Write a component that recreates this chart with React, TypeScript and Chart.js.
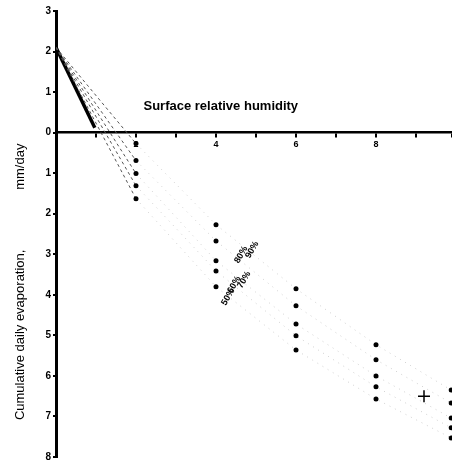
import React, { useEffect, useRef } from 'react';
import { Chart, registerables } from 'chart.js';
Chart.register(...registerables);

// ---- data ----
const startX = 0;
const startY = 2.1;
const columnX = [2, 4, 6, 8, 9.88];
const series1 = [-0.27, -2.27, -3.85, -5.23, -6.35];
const series2 = [-0.69, -2.67, -4.27, -5.6, -6.67];
const series3 = [-1.01, -3.16, -4.72, -6.0, -7.04];
const series4 = [-1.31, -3.41, -5.01, -6.27, -7.28];
const series5 = [-1.63, -3.8, -5.36, -6.57, -7.53];
const allSeries = [series1, series2, series3, series4, series5];
const seriesLabels = ['90%', '80%', '70%', '60%', '50%'];
const labelX = [4.9, 4.63, 4.7, 4.45, 4.3];
const labelY = [-2.89, -3.01, -3.63, -3.75, -4.05];
const solidX = [0, 0.97];
const solidY = [2.1, 0.12];
const crossX = [9.2];
const crossY = [-6.5];
const xLabelTicks = [2, 4, 6, 8];
const axisTitle = 'Surface relative humidity';
const yTitleMain = 'Cumulative daily evaporation,';
const yTitleUnit = 'mm/day';

// stretch the plot area to the canvas' right and bottom edges (like the scanned figure)
const areaPlugin = {
  id: 'area',
  afterLayout(chart: any) {
    const ca = chart.chartArea;
    const xs = chart.scales.x;
    const ys = chart.scales.y;
    ca.right = chart.width;
    ca.bottom = chart.height - 4;
    ca.width = ca.right - ca.left;
    ca.height = ca.bottom - ca.top;
    xs.right = ca.right;
    xs.width = xs.right - xs.left;
    ys.bottom = ca.bottom;
    ys.height = ys.bottom - ys.top;
    xs.configure();
    ys.configure();
  },
};

const textPlugin = {
  id: 'texts',
  afterDatasetsDraw(chart: any) {
    const { ctx, scales } = chart;
    const xs = scales.x;
    const ys = scales.y;
    ctx.save();
    ctx.fillStyle = '#000';
    // x-axis title
    ctx.font = 'bold 13px "Liberation Sans", Arial, sans-serif';
    ctx.textAlign = 'center';
    ctx.textBaseline = 'middle';
    ctx.fillText(axisTitle, xs.getPixelForValue(4.12), ys.getPixelForValue(0.64));
    // series labels (rotated)
    ctx.font = 'bold 9px "Liberation Sans", Arial, sans-serif';
    seriesLabels.forEach((t, i) => {
      ctx.save();
      ctx.translate(xs.getPixelForValue(labelX[i]), ys.getPixelForValue(labelY[i]));
      ctx.rotate(-Math.PI / 3);
      ctx.textAlign = 'center';
      ctx.textBaseline = 'middle';
      ctx.fillText(t, 0, 0);
      ctx.restore();
    });
    // y title
    ctx.font = '13px "Liberation Sans", Arial, sans-serif';
    ctx.save();
    ctx.translate(20, ys.getPixelForValue(-7.09));
    ctx.rotate(-Math.PI / 2);
    ctx.textAlign = 'left';
    ctx.textBaseline = 'middle';
    ctx.fillText(yTitleMain, 0, 0);
    ctx.restore();
    ctx.save();
    ctx.translate(20, ys.getPixelForValue(-1.41));
    ctx.rotate(-Math.PI / 2);
    ctx.textAlign = 'left';
    ctx.textBaseline = 'middle';
    ctx.fillText(yTitleUnit, 0, 0);
    ctx.restore();
    ctx.restore();
  },
};

export default function App() {
  const ref = useRef<HTMLCanvasElement>(null);
  useEffect(() => {
    document.body.style.margin = '0';
    const seriesSets = allSeries.map((s) => ({
      type: 'scatter' as const,
      data: [{ x: startX, y: startY }, ...columnX.map((x, i) => ({ x, y: s[i] }))],
      showLine: true,
      borderColor: '#888',
      borderWidth: 1,
      pointRadius: (c: any) => (c.dataIndex === 0 ? 0 : 2.5),
      pointBackgroundColor: '#000',
      pointBorderColor: '#000',
      pointBorderWidth: 0,
      segment: {
        borderColor: (c: any) => (c.p0DataIndex === 0 ? '#555' : '#cfcfcf'),
        borderDash: (c: any) => (c.p0DataIndex === 0 ? [3, 3] : [1, 5]),
      },
    }));
    const chart = new Chart(ref.current!, {
      type: 'scatter',
      data: {
        datasets: [
          ...seriesSets,
          {
            data: solidX.map((x, i) => ({ x, y: solidY[i] })),
            showLine: true,
            borderColor: '#000',
            borderWidth: 3.5,
            pointRadius: 0,
          },
          {
            data: crossX.map((x, i) => ({ x, y: crossY[i] })),
            pointStyle: 'cross',
            pointRadius: 6,
            borderColor: '#000',
            pointBorderWidth: 1.5,
          },
        ] as any,
      },
      options: {
        animation: false,
        responsive: false,
        layout: { padding: { top: 11, bottom: 4, left: 0, right: 0 } },
        plugins: { legend: { display: false }, tooltip: { enabled: false } },
        scales: {
          x: {
            type: 'linear',
            min: 0,
            max: 9.9,
            position: { y: 0 } as any,
            afterFit: (s: any) => {
              s.height = 0;
            },
            border: { display: true, color: '#000', width: 2.5 },
            grid: { display: true, drawOnChartArea: false, drawTicks: true, tickLength: 4, color: '#000', lineWidth: 2 },
            ticks: {
              stepSize: 1,
              padding: 2,
              color: '#000',
              font: { family: '"Liberation Sans", Arial, sans-serif', size: 9, weight: 'bold' },
              callback: (v: any) => (xLabelTicks.includes(Number(v)) ? String(v) : ''),
              maxRotation: 0,
              autoSkip: false,
            },
          },
          y: {
            type: 'linear',
            min: -8,
            max: 3,
            afterFit: (s: any) => {
              s.width = 56;
            },
            border: { display: true, color: '#000', width: 3 },
            grid: { display: true, drawOnChartArea: false, drawTicks: true, tickLength: 3, color: '#000', lineWidth: 2 },
            ticks: {
              stepSize: 1,
              padding: 2,
              color: '#000',
              font: { family: '"Liberation Sans", Arial, sans-serif', size: 10, weight: 'bold' },
              callback: (v: any) => String(Math.abs(Number(v))),
              autoSkip: false,
            },
          },
        },
      },
      plugins: [areaPlugin, textPlugin],
    });
    return () => chart.destroy();
  }, []);
  return <canvas ref={ref} width={452} height={461} style={{ display: 'block' }} />;
}
